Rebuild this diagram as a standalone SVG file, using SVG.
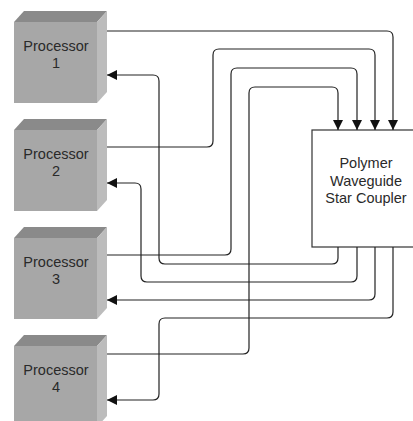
<svg xmlns="http://www.w3.org/2000/svg" width="413" height="421" viewBox="0 0 413 421">
  <style>
    .front { fill: #a7a7a7; }
    .top { fill: #8a8a8a; }
    .side { fill: #bcbcbc; }
    .label { font-family: "Liberation Sans", Arial, sans-serif; font-size: 14.5px; fill: #2a2a2a; text-anchor: middle; }
    .wire { fill: none; stroke: #222; stroke-width: 1.2; }
    .coupler { fill: #ffffff; stroke: #333; stroke-width: 1.2; }
  </style>
  <defs>
    <marker id="head" viewBox="0 0 10 10" refX="10" refY="5" markerWidth="10" markerHeight="10" markerUnits="userSpaceOnUse" orient="auto">
      <path d="M0,0 L10,5 L0,10 Z" fill="#111"/>
    </marker>
    <!-- 3D processor block, origin at front-face top-left -->
    <g id="cube">
      <polygon class="top" points="0,11 10,0 93,0 83,11"/>
      <polygon class="side" points="83,11 93,0 93,81 83,92"/>
      <rect class="front" x="0" y="11" width="83" height="81"/>
    </g>
  </defs>

  <g id="processor1" transform="translate(14,11)">
    <use href="#cube"/>
    <text class="label" x="42" y="40">Processor</text>
    <text class="label" x="42" y="57">1</text>
  </g>
  <g id="processor2" transform="translate(14,119)">
    <use href="#cube"/>
    <text class="label" x="42" y="40">Processor</text>
    <text class="label" x="42" y="57">2</text>
  </g>
  <g id="processor3" transform="translate(14,227)">
    <use href="#cube"/>
    <text class="label" x="42" y="40">Processor</text>
    <text class="label" x="42" y="57">3</text>
  </g>
  <g id="processor4" transform="translate(14,335)">
    <use href="#cube"/>
    <text class="label" x="42" y="40">Processor</text>
    <text class="label" x="42" y="57">4</text>
  </g>

  <g id="coupler">
    <rect class="coupler" x="312" y="130" width="110" height="117"/>
    <text class="label" x="366" y="168">Polymer</text>
    <text class="label" x="366" y="186">Waveguide</text>
    <text class="label" x="366" y="203">Star Coupler</text>
  </g>

  <g id="connectors">
    <!-- outputs into the coupler -->
    <path class="wire" marker-end="url(#head)" d="M107,31 H387 Q393,31 393,37 V130"/>
    <path class="wire" marker-end="url(#head)" d="M107,147 H207 Q213,147 213,141 V55 Q213,49 219,49 H369 Q375,49 375,55 V130"/>
    <path class="wire" marker-end="url(#head)" d="M107,255 H225 Q231,255 231,249 V74 Q231,68 237,68 H351 Q357,68 357,74 V130"/>
    <path class="wire" marker-end="url(#head)" d="M107,354 H243 Q249,354 249,348 V93 Q249,87 255,87 H332 Q338,87 338,93 V130"/>
    <!-- returns from the coupler -->
    <path class="wire" marker-end="url(#head)" d="M338,247 V258 Q338,264 332,264 H165 Q159,264 159,258 V81 Q159,75 153,75 H107"/>
    <path class="wire" marker-end="url(#head)" d="M357,247 V276 Q357,282 351,282 H147 Q141,282 141,276 V189 Q141,183 135,183 H107"/>
    <path class="wire" marker-end="url(#head)" d="M375,247 V294 Q375,300 369,300 H107"/>
    <path class="wire" marker-end="url(#head)" d="M393,247 V312 Q393,318 387,318 H165 Q159,318 159,324 V394 Q159,400 153,400 H107"/>
  </g>
</svg>
